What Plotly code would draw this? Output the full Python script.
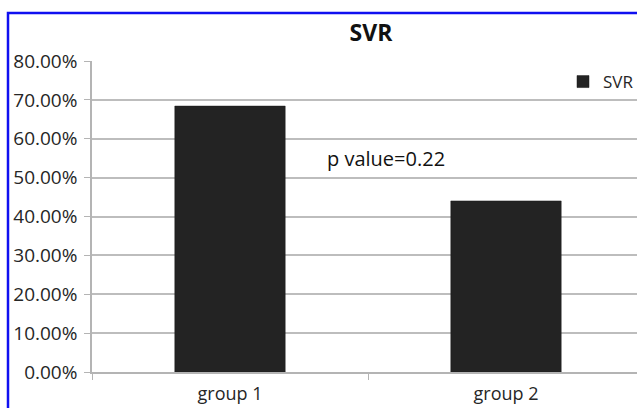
import plotly.graph_objects as go

categories = ["group 1", "group 2"]
svr_values = [0.684, 0.44]
y_tick_values = [0, 0.1, 0.2, 0.3, 0.4, 0.5, 0.6, 0.7, 0.8]
y_tick_labels = ["0.00%", "10.00%", "20.00%", "30.00%", "40.00%", "50.00%", "60.00%", "70.00%", "80.00%"]
series_name = "SVR"
title_text = "SVR"
p_value_text = "p value=0.22"

FONT = "Open Sans, Lato, Liberation Sans, sans-serif"
TXT = "#262626"

fig = go.Figure()
fig.add_trace(go.Bar(
    x=categories, y=svr_values, name=series_name,
    marker=dict(color="#232323", line=dict(color="#1a1a1a", width=0.5)),
    showlegend=True,
))

W, H = 637, 408
L, T, B = 92, 61, 36
plot_w = W - L
plot_h = H - T - B

fig.update_layout(
    width=W, height=H,
    margin=dict(l=L, r=0, t=T, b=B, autoexpand=False),
    paper_bgcolor="white", plot_bgcolor="white",
    bargap=0.6,
    font=dict(family=FONT, color=TXT, size=18),
    title=dict(text="<b>" + title_text + "</b>", x=371 / W, xanchor="center",
               y=1 - 33 / H, yanchor="middle",
               font=dict(family=FONT, size=23, color="#111")),
    legend=dict(x=(563 - L) / plot_w, xanchor="left", y=(372 - 82) / plot_h, yanchor="middle",
                bgcolor="rgba(0,0,0,0)", font=dict(size=17, color=TXT),
                itemwidth=30, borderwidth=0, tracegroupgap=0),
    xaxis=dict(range=[-0.5, -0.5 + plot_w / 276], showgrid=False, automargin=False,
               showline=True, linecolor="#b4b4b4", linewidth=1.5,
               ticks="outside", tickson="boundaries", ticklen=6,
               tickcolor="#b4b4b4", tickfont=dict(size=18, color=TXT),
               ticklabelstandoff=5, fixedrange=True),
    yaxis=dict(range=[0, 0.8], tickvals=y_tick_values, ticktext=y_tick_labels,
               automargin=False,
               showgrid=True, gridcolor="#bdbdbd", gridwidth=1.5,
               showline=True, linecolor="#b4b4b4", linewidth=1.5,
               ticks="outside", ticklen=6, tickcolor="#b4b4b4",
               ticklabelstandoff=3,
               tickfont=dict(size=19, color=TXT), zeroline=False),
)

fig.add_annotation(
    x=1, y=0.548, xref="x", yref="y", text=p_value_text, showarrow=False,
    xanchor="center", yanchor="middle",
    xshift=(386 - 506), font=dict(size=20, color="#111"),
)

# blue frame around the chart
fig.add_shape(type="rect", xref="paper", yref="paper",
              x0=(8 - L) / plot_w, x1=1.05, y0=-0.2, y1=(372 - 13) / plot_h,
              line=dict(color="#1010f0", width=2.5), layer="above")

fig.write_html("out.html", config={"displayModeBar": False},
               post_script="document.body.style.margin='0';document.body.style.overflow='hidden';")
